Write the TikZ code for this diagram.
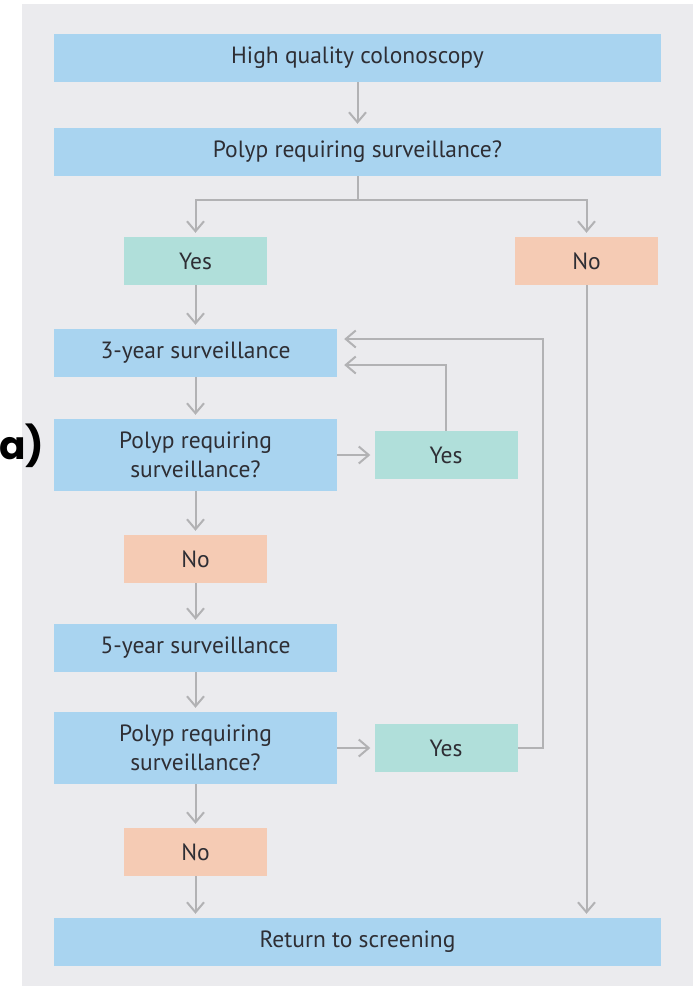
\documentclass[tikz,border=0pt]{standalone}
\usepackage{fontspec}
\setmainfont{PT Sans}
\newfontfamily\labelfont{Poppins}
\usetikzlibrary{arrows.meta}
\definecolor{panelgrey}{HTML}{EBEBEE}
\definecolor{boxblue}{HTML}{A9D4F0}
\definecolor{boxgreen}{HTML}{B0DFDA}
\definecolor{boxpeach}{HTML}{F5CBB4}
\definecolor{linegrey}{HTML}{B2B2B4}
\definecolor{textgrey}{HTML}{2E2E34}
\tikzset{
	box/.style={inner sep=0pt, text=textgrey, align=center, font=\fontsize{23.5}{29}\selectfont},
	wide/.style={box, fill=boxblue, minimum width=607pt, minimum height=48pt},
	step box/.style={box, fill=boxblue, minimum width=283pt, minimum height=48pt},
	question/.style={box, fill=boxblue, minimum width=283pt, minimum height=72pt},
	yesbox/.style={box, fill=boxgreen, minimum width=143pt, minimum height=48pt},
	nobox/.style={box, fill=boxpeach, minimum width=143pt, minimum height=48pt},
	flow/.style={draw=linegrey, line width=2pt, -{Straight Barb[length=10pt,width=17pt,line width=2pt]}, shorten >=4pt},
	plain/.style={draw=linegrey, line width=2pt}
}

\begin{document}
\begin{tikzpicture}[x=1pt, y=-1pt]
			%%%%% START %%%%%
			
			\useasboundingbox (0, 0) rectangle (699, 986);
			\fill[panelgrey] (22, 4) rectangle (693, 986);
			
			\node[anchor=west, inner sep=0pt, font=\labelfont\bfseries\fontsize{39}{42}\selectfont] (lbl) at (-1, 446) {a)};
			
			\node[wide] (hq) at (357.5, 58) {High quality colonoscopy};
			\node[wide] (q1) at (357.5, 152) {Polyp requiring surveillance?};
			
			\node[yesbox] (yes1) at (195.5, 261) {Yes};
			\node[nobox] (no1) at (586.5, 261) {No};
			
			\node[step box] (s3) at (195.5, 353) {3-year surveillance};
			\node[question] (q2) at (195.5, 455) {Polyp requiring\\surveillance?};
			\node[yesbox] (yes2) at (446, 455) {Yes};
			\node[nobox] (no2) at (195.5, 559) {No};
			
			\node[step box] (s5) at (195.5, 648) {5-year surveillance};
			\node[question] (q3) at (195.5, 748) {Polyp requiring\\surveillance?};
			\node[yesbox] (yes3) at (446, 748) {Yes};
			\node[nobox] (no3) at (195.5, 852) {No};
			
			\node[wide] (ret) at (357.5, 942) {Return to screening};
			
			% top part
			\draw[flow] (hq) -- (q1);
			\draw[plain] (q1.south) -- ++(0, 24) coordinate (split);
			\draw[flow] (split) -| (yes1.north);
			\draw[flow] (split) -| (no1.north);
			\draw[flow] (no1.south) -- (no1.south |- ret.north);
			
			% left column
			\draw[flow] (yes1) -- (s3);
			\draw[flow] (s3) -- (q2);
			\draw[flow] (q2) -- (no2);
			\draw[flow] (no2) -- (s5);
			\draw[flow] (s5) -- (q3);
			\draw[flow] (q3) -- (no3);
			\draw[flow] (no3.south) -- (no3.south |- ret.north);
			
			% loops back
			\draw[flow] (q2) -- (yes2);
			\draw[flow] (q3) -- (yes3);
			\draw[flow, shorten >=7pt] (yes2.north) |- ([yshift=-12pt]s3.east);
			\draw[flow, shorten >=7pt] (yes3.east) -- ++(25, 0) |- ([yshift=14pt]s3.east);
			
			%%%%% END %%%%%
		\end{tikzpicture}
\end{document}
